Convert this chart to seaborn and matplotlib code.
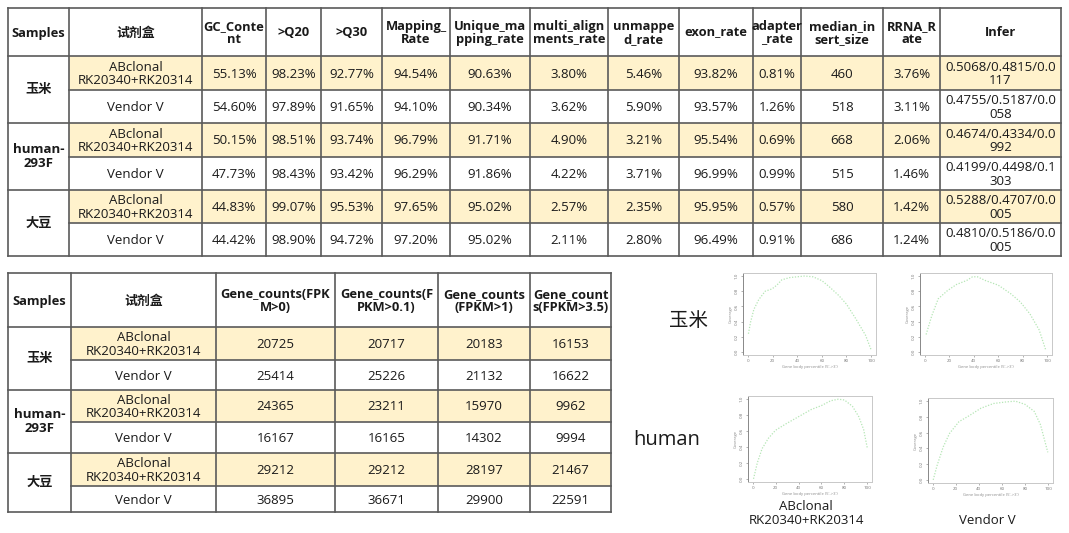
import matplotlib
matplotlib.use('Agg')
import matplotlib.pyplot as plt
import seaborn as sns
from matplotlib.patches import Rectangle

sns.set_theme(style='white')
plt.rcParams['font.family'] = ['Open Sans', 'Noto Sans CJK SC', 'DejaVu Sans']

# ---------------- data ----------------
samples = ['玉米', 'human-\n293F', '大豆']
kits = ['ABclonal\nRK20340+RK20314', 'Vendor V'] * 3

qc_header = ['Samples', '试剂盒', 'GC_Conte\nnt', '>Q20', '>Q30', 'Mapping_\nRate',
             'Unique_ma\npping_rate', 'multi_align\nments_rate', 'unmappe\nd_rate',
             'exon_rate', 'adapter\n_rate', 'median_in\nsert_size', 'RRNA_R\nate', 'Infer']
gc_content = [55.13, 54.60, 50.15, 47.73, 44.83, 44.42]
q20 = [98.23, 97.89, 98.51, 98.43, 99.07, 98.90]
q30 = [92.77, 91.65, 93.74, 93.42, 95.53, 94.72]
mapping_rate = [94.54, 94.10, 96.79, 96.29, 97.65, 97.20]
unique_rate = [90.63, 90.34, 91.71, 91.86, 95.02, 95.02]
multi_rate = [3.80, 3.62, 4.90, 4.22, 2.57, 2.11]
unmapped_rate = [5.46, 5.90, 3.21, 3.71, 2.35, 2.80]
exon_rate = [93.82, 93.57, 95.54, 96.99, 95.95, 96.49]
adapter_rate = [0.81, 1.26, 0.69, 0.99, 0.57, 0.91]
median_insert = [460, 518, 668, 515, 580, 686]
rrna_rate = [3.76, 3.11, 2.06, 1.46, 1.42, 1.24]
infer = ['0.5068/0.4815/0.0117', '0.4755/0.5187/0.0058', '0.4674/0.4334/0.0992',
         '0.4199/0.4498/0.1303', '0.5288/0.4707/0.0005', '0.4810/0.5186/0.0005']

gene_header = ['Samples', '试剂盒', 'Gene_counts(FPK\nM>0)', 'Gene_counts(F\nPKM>0.1)',
               'Gene_counts\n(FPKM>1)', 'Gene_count\ns(FPKM>3.5)']
fpkm0 = [20725, 25414, 24365, 16167, 29212, 36895]
fpkm01 = [20717, 25226, 23211, 16165, 29212, 36671]
fpkm1 = [20183, 21132, 15970, 14302, 28197, 29900]
fpkm35 = [16153, 16622, 9962, 9994, 21467, 22591]

# gene body coverage curves (percentile, normalized coverage)
maize_ab_x = [0.4, 2.1, 4.8, 8.8, 14, 19.5, 23.5, 27.5, 34, 40, 46, 52.8, 60, 66, 74, 80, 87.5, 95.5, 100]
maize_ab_y = [0.24, 0.39, 0.56, 0.69, 0.80, 0.83, 0.88, 0.95, 0.98, 0.99, 1.0, 0.99, 0.94, 0.86, 0.74, 0.63, 0.44, 0.22, 0.03]
maize_v_x = [1, 5.7, 10.9, 18.6, 26, 34, 39, 43, 49.6, 60, 70, 78, 86, 93.5, 99]
maize_v_y = [0.23, 0.48, 0.70, 0.81, 0.89, 0.94, 0.99, 0.99, 0.94, 0.88, 0.77, 0.66, 0.50, 0.29, 0.02]
human_ab_x = [0.8, 4.1, 8.3, 13.8, 20, 29, 40, 51, 60, 68, 74.6, 80, 87, 92.5, 96.7, 100]
human_ab_y = [0.0, 0.20, 0.38, 0.51, 0.61, 0.69, 0.78, 0.87, 0.92, 0.98, 1.0, 0.99, 0.91, 0.78, 0.62, 0.38]
human_v_x = [0.5, 3.8, 9.2, 14.6, 22.8, 31, 41.7, 52.6, 63.4, 71.5, 79.7, 87.8, 93.2, 98.6, 99.5]
human_v_y = [0.0, 0.18, 0.42, 0.59, 0.74, 0.81, 0.91, 0.97, 0.99, 1.0, 0.96, 0.87, 0.70, 0.40, 0.35]

W, H = 1069, 533
CREAM = '#FFF2CC'
LINE = '#5a5a5a'
TXT = '#1a1a1a'

fig = plt.figure(figsize=(W / 100, H / 100), dpi=100)
ax0 = fig.add_axes([0, 0, 1, 1])
ax0.set_xlim(0, W)
ax0.set_ylim(H, 0)
ax0.axis('off')


def pct(vals):
    return ['%.2f%%' % v for v in vals]


def wrap17(s):
    return s[:17] + '\n' + s[17:]


def draw_table(ax, cols, rows, header, body):
    nrow = len(rows) - 1
    # fills for kit rows
    for r in range(1, nrow):
        if (r - 1) % 2 == 0:
            ax.add_patch(Rectangle((cols[1], rows[r]), cols[-1] - cols[1], rows[r + 1] - rows[r],
                                   facecolor=CREAM, edgecolor='none', zorder=1))
    # header text
    for c, h in enumerate(header):
        ax.text((cols[c] + cols[c + 1]) / 2, (rows[0] + rows[1]) / 2 + 1, h, ha='center', va='center',
                fontsize=9.3, fontweight='bold', color=TXT, linespacing=1.05, zorder=3)
    # sample labels (merged cells)
    for i, s in enumerate(samples):
        y = (rows[1 + 2 * i] + rows[3 + 2 * i]) / 2
        ax.text((cols[0] + cols[1]) / 2, y, s, ha='center', va='center', fontsize=9.5,
                fontweight='bold', color=TXT, linespacing=1.1, zorder=3)
    # body text
    for c, col in enumerate(body):
        for r, v in enumerate(col):
            ax.text((cols[c + 1] + cols[c + 2]) / 2, (rows[r + 1] + rows[r + 2]) / 2 + 1, v,
                    ha='center', va='center', fontsize=9.5, color=TXT, linespacing=1.05, zorder=3)
    # grid lines
    lw = 1.2
    for x in cols:
        ax.plot([x, x], [rows[0], rows[-1]], color=LINE, lw=lw, zorder=2, solid_capstyle='projecting')
    for r, y in enumerate(rows):
        x_start = cols[0] if (r in (0, 1, nrow) or (r - 1) % 2 == 0) else cols[1]
        ax.plot([x_start, cols[-1]], [y, y], color=LINE, lw=lw, zorder=2, solid_capstyle='projecting')


qc_cols = [7.5, 69, 202, 266, 321, 382, 450, 530, 608, 679, 753, 801, 883, 940, 1061]
qc_rows = [8, 56, 90, 123, 157, 190, 223, 256]
qc_body = [kits, pct(gc_content), pct(q20), pct(q30), pct(mapping_rate), pct(unique_rate),
           pct(multi_rate), pct(unmapped_rate), pct(exon_rate), pct(adapter_rate),
           [str(v) for v in median_insert], pct(rrna_rate), [wrap17(s) for s in infer]]
draw_table(ax0, qc_cols, qc_rows, qc_header, qc_body)

gene_cols = [8, 71, 216, 335, 438, 530, 611]
gene_rows = [273, 327, 360, 390, 422, 453, 486, 512]
gene_body = [kits, [str(v) for v in fpkm0], [str(v) for v in fpkm01],
             [str(v) for v in fpkm1], [str(v) for v in fpkm35]]
draw_table(ax0, gene_cols, gene_rows, gene_header, gene_body)

# side labels
ax0.text(689, 321, '玉米', ha='center', va='center', fontsize=14, color=TXT)
ax0.text(667, 440, 'human', ha='center', va='center', fontsize=14.5, color=TXT)
ax0.text(806, 513, 'ABclonal\nRK20340+RK20314', ha='center', va='center', fontsize=9.5,
         color=TXT, linespacing=1.1)
ax0.text(987, 521, 'Vendor V', ha='center', va='center', fontsize=9.5, color=TXT)

# coverage plots
panels = [
    ((743, 273, 876, 355), maize_ab_x, maize_ab_y),
    ((920, 273, 1052, 355), maize_v_x, maize_v_y),
    ((748, 396, 872, 482), human_ab_x, human_ab_y),
    ((928, 398, 1053, 483), human_v_x, human_v_y),
]
for (x0, y0, x1, y1), xs, ys in panels:
    ax = fig.add_axes([x0 / W, 1 - y1 / H, (x1 - x0) / W, (y1 - y0) / H])
    sns.lineplot(x=xs, y=ys, ax=ax, color='#b5e6b5', lw=0.9, linestyle=(0, (1, 1.3)))
    ax.set_xlim(-4, 104)
    ax.set_ylim(-0.04, 1.04)
    ax.set_xticks([0, 20, 40, 60, 80, 100])
    ax.set_yticks([0, 0.2, 0.4, 0.6, 0.8, 1.0])
    ax.set_yticklabels(['0.0', '0.2', '0.4', '0.6', '0.8', '1.0'], rotation=90, va='center')
    ax.tick_params(bottom=True, left=True, length=1.5, width=0.4, pad=1.5, labelsize=3.2,
                   colors='#777777')
    ax.set_xlabel("Gene body percentile (5'->3')", fontsize=3, color='#888888', labelpad=1.5)
    ax.set_ylabel('Coverage', fontsize=3, color='#888888', labelpad=1.5)
    for sp in ax.spines.values():
        sp.set_color('#c8c8c8')
        sp.set_linewidth(0.7)
    ax.spines['left'].set_color('#888888')
    ax.set_facecolor('white')

fig.savefig('out.png', dpi=100, facecolor='white')
